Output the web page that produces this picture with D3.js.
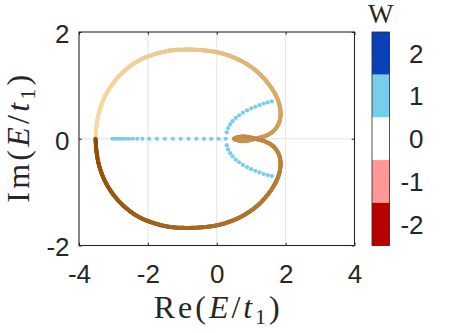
<!DOCTYPE html>
<html>
<head>
<meta charset="utf-8">
<script src="https://cdn.jsdelivr.net/npm/d3@7"></script>
<style>
  body { margin: 0; background: #fff; }
  svg { display: block; }
</style>
</head>
<body>
<div class="chart"></div>
<script>
// periodic-boundary spectrum, read along k from 0 to 2pi
const pbcRe = [-3.52, -3.48, -3.38, -3.20, -2.95, -2.63, -2.25, -1.83, -1.38, -0.92, -0.45, 0.02, 0.47, 0.87, 1.22, 1.50, 1.71, 1.83, 1.85, 1.78, 1.62, 1.40, 1.18, 1.00, 0.80, 0.62, 0.50,
               0.62, 0.80, 1.00, 1.18, 1.40, 1.62, 1.78, 1.85, 1.83, 1.71, 1.50, 1.22, 0.87, 0.47, 0.02, -0.45, -0.92, -1.38, -1.83, -2.25, -2.63, -2.95, -3.20, -3.38, -3.48, -3.52];
const pbcIm = [0.00, 0.30, 0.58, 0.85, 1.09, 1.30, 1.47, 1.58, 1.65, 1.67, 1.66, 1.62, 1.53, 1.40, 1.23, 1.03, 0.82, 0.61, 0.42, 0.26, 0.13, 0.05, 0.01, -0.02, -0.04, -0.03, 0.00,
               0.03, 0.04, 0.02, -0.01, -0.05, -0.13, -0.26, -0.42, -0.61, -0.82, -1.03, -1.23, -1.40, -1.53, -1.62, -1.66, -1.67, -1.65, -1.58, -1.47, -1.30, -1.09, -0.85, -0.58, -0.30, 0.00];

// open-boundary eigenvalues (dots)
const obcRe = [-3.03, -2.96, -2.89, -2.82, -2.74, -2.65, -2.55, -2.44, -2.31, -2.16, -1.96, -1.74, -1.51, -1.28, -1.05, -0.82, -0.59, -0.37, -0.16, 0.05, 0.26,
               0.29, 0.33, 0.39, 0.46, 0.55, 0.65, 0.76, 0.88, 1.00, 1.12, 1.24, 1.36, 1.48, 1.60,
               0.29, 0.33, 0.39, 0.46, 0.55, 0.65, 0.76, 0.88, 1.00, 1.12, 1.24, 1.36, 1.48, 1.60];
const obcIm = [0, 0, 0, 0, 0, 0, 0, 0, 0, 0, 0, 0, 0, 0, 0, 0, 0, 0, 0, 0, 0,
               0.12, 0.20, 0.27, 0.33, 0.39, 0.44, 0.49, 0.53, 0.57, 0.60, 0.63, 0.66, 0.68, 0.70,
               -0.12, -0.20, -0.27, -0.33, -0.39, -0.44, -0.49, -0.53, -0.57, -0.60, -0.63, -0.66, -0.68, -0.70];

const xTicks = [-4, -2, 0, 2, 4];
const yTicks = [-2, 0, 2];
const windingLevels = [2, 1, 0, -1, -2];
const windingColors = ['#0a40b8', '#78cdeb', '#ffffff', '#fd9898', '#b80000'];

const width = 449, height = 333;
const box = { left: 79, right: 354.5, top: 32, bottom: 245.5 };
const ink = '#262626';

const svg = d3.select('.chart').append('svg')
    .attr('width', width)
    .attr('height', height);

const x = d3.scaleLinear().domain([-4, 4]).range([box.left, box.right]);
const y = d3.scaleLinear().domain([-2, 2]).range([box.bottom, box.top]);

// grid
svg.append('g').selectAll('line').data(xTicks.slice(1, -1)).enter().append('line')
    .attr('x1', d => x(d)).attr('x2', d => x(d))
    .attr('y1', box.top).attr('y2', box.bottom)
    .attr('stroke', '#e3e3e3').attr('stroke-width', 1);
svg.append('g').selectAll('line').data(yTicks.slice(1, -1)).enter().append('line')
    .attr('y1', d => y(d)).attr('y2', d => y(d))
    .attr('x1', box.left).attr('x2', box.right)
    .attr('stroke', '#e3e3e3').attr('stroke-width', 1);

// spectrum loop, coloured along its length
const pts = pbcRe.map((r, i) => [x(r), y(pbcIm[i])]);
const guide = svg.append('path')
    .attr('d', d3.line().curve(d3.curveCatmullRom.alpha(0.5))(pts))
    .attr('fill', 'none').attr('stroke', 'none');
const total = guide.node().getTotalLength();
const shade = d3.scaleLinear()
    .domain([0, 0.22, 0.38, 0.5, 0.62, 0.78, 1])
    .range(['#f7dca8', '#ebc88c', '#d8aa6c', '#c58f4a', '#b57c34', '#a66a1f', '#8f4e00']);
const nSeg = 900;
const samples = d3.range(nSeg + 1).map(i => guide.node().getPointAtLength(total * i / nSeg));
svg.append('g').selectAll('line').data(d3.range(nSeg)).enter().append('line')
    .attr('x1', i => samples[i].x).attr('y1', i => samples[i].y)
    .attr('x2', i => samples[i + 1].x).attr('y2', i => samples[i + 1].y)
    .attr('stroke', i => shade(i / nSeg))
    .attr('stroke-width', 4)
    .attr('stroke-linecap', 'round');

// OBC dots
svg.append('g').selectAll('circle').data(obcRe).enter().append('circle')
    .attr('cx', d => x(d))
    .attr('cy', (d, i) => y(obcIm[i]))
    .attr('r', 2.1)
    .attr('fill', windingColors[1]);

// axes, ticks inward
const tickFont = '"Liberation Sans", Arial, Helvetica, sans-serif';
const styleAxis = g => {
  g.select('.domain').remove();
  g.selectAll('.tick line').attr('stroke', ink);
  g.selectAll('.tick text').attr('fill', ink)
      .style('font-family', tickFont).style('font-size', '26px');
};
svg.append('g').attr('transform', `translate(0,${box.bottom})`)
    .call(d3.axisBottom(x).tickValues(xTicks).tickFormat(String).tickSizeInner(-2.8).tickSizeOuter(0).tickPadding(19))
    .call(styleAxis);
svg.append('g').attr('transform', `translate(0,${box.top})`)
    .call(d3.axisTop(x).tickValues(xTicks).tickFormat('').tickSizeInner(-2.8).tickSizeOuter(0))
    .call(styleAxis);
svg.append('g').attr('transform', `translate(${box.left},0)`)
    .call(d3.axisLeft(y).tickValues(yTicks).tickFormat(String).tickSizeInner(-2.8).tickSizeOuter(0).tickPadding(9.5))
    .call(styleAxis)
    .selectAll('.tick text').attr('dy', '0.4em');
svg.append('g').attr('transform', `translate(${box.right},0)`)
    .call(d3.axisRight(y).tickValues(yTicks).tickFormat('').tickSizeInner(-2.8).tickSizeOuter(0))
    .call(styleAxis);

svg.append('rect')
    .attr('x', box.left).attr('y', box.top)
    .attr('width', box.right - box.left).attr('height', box.bottom - box.top)
    .attr('fill', 'none').attr('stroke', ink).attr('stroke-width', 1.1);

// axis labels
const serif = '"Liberation Serif", "Times New Roman", serif';
const mathLabel = (g, head) => {
  const t = g.append('text')
      .attr('text-anchor', 'middle')
      .attr('fill', ink)
      .style('font-family', serif).style('font-size', '32px').style('font-weight', 400);
  t.append('tspan').text(head + '(');
  t.append('tspan').style('font-style', 'italic').text('E');
  t.append('tspan').text('/');
  t.append('tspan').style('font-style', 'italic').text('t');
  t.append('tspan').style('font-size', '22px').attr('dy', 6).text('1');
  t.append('tspan').attr('dy', -6).text(')');
  return t;
};
mathLabel(svg.append('g').attr('transform', `translate(${x(0)},318)`), 'Re')
    .attr('textLength', 126).attr('lengthAdjust', 'spacing');
mathLabel(svg.append('g').attr('transform', `translate(29,${(box.top + box.bottom) / 2}) rotate(-90)`), 'Im')
    .attr('textLength', 128).attr('lengthAdjust', 'spacing');

// colorbar
const cb = { left: 372, right: 389.5 };
const band = d3.scaleBand().domain(windingLevels).range([box.top, box.bottom]);
svg.append('g').selectAll('rect').data(windingLevels).enter().append('rect')
    .attr('x', cb.left).attr('y', d => band(d))
    .attr('width', cb.right - cb.left).attr('height', band.bandwidth())
    .attr('fill', (d, i) => windingColors[i]);
svg.append('rect')
    .attr('x', cb.left).attr('y', box.top)
    .attr('width', cb.right - cb.left).attr('height', box.bottom - box.top)
    .attr('fill', 'none').attr('stroke', ink).attr('stroke-width', 0.8);
svg.append('g').selectAll('text').data(windingLevels).enter().append('text')
    .attr('x', 423.5)
    .attr('y', d => band(d) + band.bandwidth() / 2)
    .attr('dy', '0.36em')
    .attr('text-anchor', 'end')
    .attr('fill', ink)
    .style('font-family', tickFont).style('font-size', '26px')
    .text(d => d);
svg.append('text')
    .attr('x', (cb.left + cb.right) / 2).attr('y', 23)
    .attr('text-anchor', 'middle')
    .attr('fill', ink)
    .style('font-family', serif).style('font-size', '27px')
    .text('W');
</script>
</body>
</html>
